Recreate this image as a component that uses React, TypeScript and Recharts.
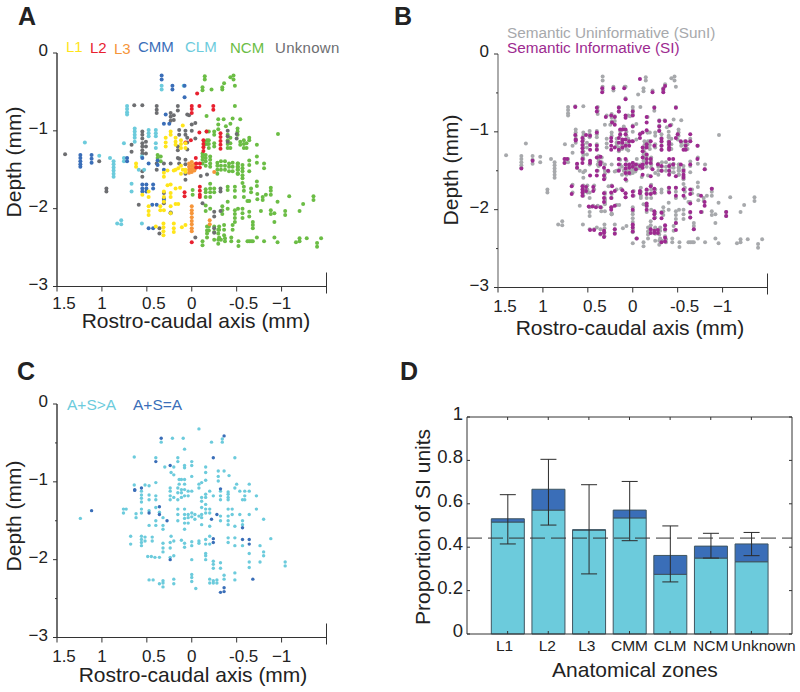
import {
  Bar,
  ComposedChart,
  ErrorBar,
  ReferenceLine,
  Scatter,
  ScatterChart,
  XAxis,
  YAxis,
} from 'recharts';

type Column = [number, number[]];

// recording sites, one row per rostro-caudal position: [x mm, [depths mm]]
const NCM_SITES: Column[] = [
  [-0.12, [-0.44, -0.48, -1.29, -1.33, -1.37, -1.42, -2.42, -2.47]],
  [-0.145, [-0.3, -0.34]],
  [-0.22, [-0.47]],
  [-0.34, [-0.44, -0.47, -1.97, -2.02, -2.07]],
  [-0.36, [-0.39, -2.21, -2.27, -2.34]],
  [-0.43, [-0.31, -0.91, -1.09, -1.16, -1.22]],
  [-0.465, [-0.29, -0.34]],
  [-0.48, [-0.42, -0.68, -1.72, -1.77, -1.85, -2.02, -2.07, -2.12, -2.17]],
  [-0.165, [-0.81, -1.01]],
  [-0.295, [-0.85, -0.92, -0.98, -2.27, -2.32, -2.4, -2.45]],
  [-0.355, [-0.85]],
  [-0.38, [-0.94]],
  [-0.455, [-0.84, -1.41, -1.46, -1.52, -2.21, -2.27]],
  [-0.54, [-0.85, -1.14, -1.18]],
  [-0.51, [-0.97, -1.01, -1.05, -1.42, -1.46, -1.5, -1.55]],
  [-0.96, [-1.04]],
  [-0.17, [-1.12, -1.17, -2.23, -2.28, -2.32, -2.37]],
  [-0.19, [-1.01, -1.12, -1.17, -1.22, -2.23, -2.28]],
  [-0.14, [-1.14, -1.18]],
  [-0.25, [-1.01, -1.05, -1.16, -1.2, -1.74, -1.79, -2.23, -2.3, -2.4]],
  [-0.4, [-1.05, -1.12, -1.17, -1.22, -1.72, -1.76, -1.91, -2.0]],
  [-0.58, [-1.12, -1.17, -1.22, -1.72, -1.77, -1.85]],
  [-0.61, [-1.16, -1.22]],
  [-0.64, [-1.09, -1.12, -1.38, -1.44, -1.52, -1.9, -2.04, -2.1, -2.42]],
  [-0.725, [-1.18, -1.33, -1.41, -1.65, -1.71, -2.37]],
  [-0.155, [-1.31, -1.35, -1.39, -1.45, -1.75, -1.79, -1.85, -1.96, -2.03]],
  [-0.205, [-1.33, -1.37, -1.42, -1.46, -1.68, -1.74, -1.79, -1.85, -2.0]],
  [-0.285, [-1.41, -1.45, -1.5, -1.55]],
  [-0.325, [-1.39, -1.45, -1.5, -2.4]],
  [-0.37, [-1.39, -1.45, -1.5, -2.38, -2.42]],
  [-0.415, [-1.42, -1.46, -1.52]],
  [-0.515, [-1.42, -1.46, -1.5, -1.55, -2.0]],
  [-0.565, [-1.44, -1.48, -1.52, -1.57, -1.61, -1.67, -2.0, -2.06, -2.12]],
  [-0.805, [-1.42, -1.48, -2.42]],
  [0.38, [-1.31, -1.35]],
  [0.345, [-1.33, -1.39]],
  [-0.01, [-1.76, -1.82]],
  [-0.66, [-1.74, -1.79, -2.42]],
  [-0.73, [-1.81, -1.88]],
  [-0.79, [-1.85, -1.89]],
  [-0.825, [-1.82]],
  [-0.88, [-1.73, -1.77, -1.82, -2.02, -2.07]],
  [-1.085, [-1.84]],
  [-1.355, [-1.84, -1.89]],
  [-1.24, [-1.94]],
  [-1.2, [-2.03, -2.38, -2.42]],
  [-1.04, [-2.03, -2.08]],
  [-0.955, [-1.91, -2.43]],
  [-0.92, [-2.06, -2.17, -2.37]],
  [-0.77, [-2.03]],
  [-0.62, [-1.9, -2.42]],
  [-0.68, [-2.17, -2.21, -2.25, -2.42]],
  [-0.305, [-2.23, -2.27, -2.37]],
  [-0.44, [-2.37, -2.42]],
  [-0.52, [-2.42, -2.48]],
  [-1.16, [-2.43]],
  [-1.28, [-2.38]],
  [-1.395, [-2.44, -2.49]],
  [-1.44, [-2.38]],
];
const UNKNOWN_SITES: Column[] = [
  [1.41, [-1.3]],
  [1.03, [-1.39]],
  [0.95, [-1.74, -1.78]],
  [0.64, [-0.67]],
  [0.55, [-0.67, -1.01, -1.05, -1.1, -1.16, -1.2, -1.25, -1.29, -1.52, -1.59]],
  [0.39, [-0.68, -0.73, -0.77, -1.42, -1.5]],
  [0.155, [-0.68, -0.74, -1.2, -1.25, -1.35]],
  [0.235, [-0.77, -0.82, -0.87, -1.42, -2.05]],
  [0.2, [-0.8, -0.86]],
  [0.05, [-0.79, -1.09, -1.15, -1.24]],
  [0.03, [-0.8]],
  [0.0, [-0.92, -1.0]],
  [-0.04, [-0.9, -1.1, -2.37]],
  [0.14, [-0.99, -1.05, -1.36, -1.42]],
  [0.07, [-1.0, -1.05, -1.37, -1.43, -1.55, -1.63]],
  [0.67, [-1.18, -1.27]],
  [0.51, [-1.14, -1.2, -1.29]],
  [-0.4, [-1.0, -1.07, -1.14]],
  [-0.5, [-1.04, -1.1]],
  [0.31, [-1.42, -1.8, -1.87, -1.93]],
  [-0.1, [-1.58]],
  [-0.17, [-1.56]],
  [0.59, [-1.95]],
  [-0.12, [-1.93]],
  [-0.32, [-1.74, -1.78, -2.03]],
  [-0.25, [-2.04, -2.1, -2.25, -2.31]],
  [0.36, [-2.25, -2.32]],
];
const L3_SITES: Column[] = [
  [0.0, [-1.97, -2.02, -2.06, -2.11, -2.16, -2.2, -2.25, -2.29]],
  [-0.2, [-2.15, -2.2]],
  [0.03, [-1.42, -1.46, -1.5, -1.54]],
  [0.0, [-1.4, -1.45, -1.49, -1.53]],
  [-0.03, [-1.43, -1.47, -1.51]],
  [-0.05, [-1.47]],
  [-0.25, [-1.53]],
];
const L2_SITES: Column[] = [
  [-0.06, [-0.52]],
  [0.0, [-0.68, -0.72, -0.77, -2.43]],
  [-0.085, [-0.68, -1.02]],
  [-0.24, [-0.68, -0.73]],
  [-0.13, [-1.12, -1.17, -1.21, -1.26]],
  [-0.165, [-1.01]],
  [-0.32, [-1.03, -1.08, -1.13, -1.18, -1.23]],
  [-0.045, [-1.35]],
  [-0.05, [-1.42, -1.47]],
  [-0.09, [-1.42, -1.47]],
  [0.08, [-1.79, -1.84]],
  [-0.09, [-1.72, -1.77, -1.82, -1.85]],
  [0.01, [-1.12]],
  [0.07, [-1.15]],
];
const L1_SITES: Column[] = [
  [0.1, [-0.93, -1.5]],
  [0.235, [-1.01, -1.05, -1.69, -1.8, -1.85, -1.97, -2.06]],
  [0.29, [-1.09, -1.15, -1.2]],
  [0.18, [-1.09, -1.14, -1.18, -1.5, -1.74, -1.94]],
  [0.12, [-1.12, -1.17, -1.22, -1.45, -1.55]],
  [0.07, [-1.16, -1.22, -1.5, -1.53, -2.21]],
  [0.62, [-1.42, -1.46]],
  [0.31, [-1.54, -1.59, -1.78, -1.85, -1.91, -2.02]],
  [0.48, [-1.78, -1.85, -1.97, -2.03, -2.08]],
  [0.55, [-1.82]],
  [0.27, [-1.7, -1.51]],
  [0.13, [-1.73]],
  [0.35, [-1.97, -2.02]],
  [0.15, [-1.94, -1.48]],
  [0.4, [-2.23]],
  [0.315, [-2.19, -2.24, -2.29, -2.34]],
  [0.2, [-2.19, -2.25, -2.3, -1.51]],
  [0.11, [-2.24]],
];
const CMM_SITES: Column[] = [
  [0.335, [-0.29, -0.34]],
  [0.215, [-0.42, -0.47]],
  [0.08, [-0.42, -0.57]],
  [0.29, [-0.79]],
  [0.31, [-0.91, -1.5, -1.89]],
  [0.25, [-0.91]],
  [1.24, [-1.31, -1.35, -1.39, -1.43, -1.46]],
  [1.115, [-1.31, -1.36, -1.41]],
  [0.72, [-1.35, -1.39]],
  [0.55, [-1.35, -1.69, -1.74, -1.78]],
  [0.505, [-1.69, -1.74, -1.78]],
  [0.43, [-1.69, -1.74, -2.25]],
  [0.38, [-1.38, -1.44]],
  [0.44, [-1.95]],
  [0.39, [-1.95]],
  [0.48, [-2.25, -1.42]],
  [0.235, [-2.06]],
];
const CLM_SITES: Column[] = [
  [0.335, [-0.42, -0.47]],
  [0.09, [-0.42]],
  [0.72, [-0.68, -0.72, -0.76, -0.79]],
  [0.635, [-0.97, -1.01, -1.05, -1.09, -1.14]],
  [0.48, [-0.99, -1.03, -1.07]],
  [0.4, [-0.99, -1.03, -1.07, -1.16, -1.22]],
  [1.19, [-1.15]],
  [1.03, [-1.32]],
  [0.91, [-1.35]],
  [0.87, [-1.39, -1.43, -1.47, -1.51, -1.55, -1.59]],
  [0.755, [-1.16, -1.35, -1.39]],
  [0.67, [-1.68, -1.78]],
  [0.555, [-2.19, -1.33]],
  [0.83, [-2.19]],
  [0.785, [-2.15, -2.2]],
  [0.59, [-1.5]],
  [0.53, [-1.5]],
];

// semantic informative units split by the auditory-only comparison
const ADDS_TO_A_SITES: Column[] = [
  [1.24, [-1.47]],
  [0.76, [-1.35, -1.4]],
  [0.73, [-1.35]],
  [0.68, [-1.7, -1.8]],
  [0.64, [-0.68, -1.04]],
  [0.62, [-1.41, -1.46]],
  [0.56, [-1.12, -1.17, -1.21, -1.26, -1.35, -1.4, -1.7, -1.74, -1.78, -1.82]],
  [0.52, [-1.04, -1.71, -1.76]],
  [0.475, [-1.05, -1.17, -1.23, -1.37, -1.56, -2.26]],
  [0.49, [-1.96]],
  [0.45, [-1.96]],
  [0.41, [-1.97]],
  [0.44, [-1.71, -1.76]],
  [0.4, [-1.01, -1.18, -1.23, -1.33, -1.5, -1.56, -0.69]],
  [0.36, [-1.39, -1.97, -2.31]],
  [0.43, [-2.26]],
  [0.32, [-1.79, -1.85, -1.9, -2.27, -2.3, -2.35, -1.46, -1.56, -1.61]],
  [0.34, [-0.49]],
  [0.3, [-0.81]],
  [0.24, [-1.08, -1.12, -1.18, -1.23, -1.78, -1.85, -1.97]],
  [0.23, [-0.88, -1.7]],
  [0.2, [-0.81, -0.91, -1.2, -1.76, -2.25, -2.31, -1.95]],
  [0.215, [-0.44]],
  [0.155, [-0.69, -0.74, -1.08, -1.14, -1.23, -1.35, -1.42, -1.5]],
  [0.14, [-0.97, -1.03]],
  [0.115, [-0.97, -1.1, -1.14, -1.2, -1.75]],
  [0.095, [-0.44]],
  [0.08, [-0.58, -0.79, -0.82, -0.97, -1.03, -1.1, -1.18, -1.35, -1.42, -1.47, -1.53, -1.61, -1.79, -1.84]],
  [0.04, [-1.12, -1.18, -1.42, -1.46, -1.53]],
  [0.0, [-0.74, -0.79, -0.93, -1.12, -1.4, -1.45, -1.77, -1.82, -2.0, -2.19, -2.23, -2.28]],
  [-0.035, [-1.42, -1.48]],
  [-0.045, [-2.37]],
  [-0.08, [-0.32, -1.03, -1.08, -1.44, -1.76, -1.79]],
  [-0.11, [-1.01, -1.2, -1.25, -1.33, -1.42, -1.46, -1.55]],
  [-0.155, [-0.81, -0.88, -0.98, -1.16, -1.2, -1.29, -1.35, -1.4, -1.74, -1.8, -1.92, -1.95, -2.0]],
  [-0.2, [-1.12, -1.35, -1.4, -1.57, -1.7, -1.8, -2.25, -2.3]],
  [-0.24, [-1.18, -2.02, -2.06, -2.11, -2.27, -2.3]],
  [-0.22, [-0.49]],
  [-0.28, [-2.26, -2.3]],
  [-0.295, [-0.86, -0.93, -0.99]],
  [-0.32, [-1.12, -1.18, -1.23, -1.44, -1.5, -2.04, -2.11]],
  [-0.34, [-0.45, -0.49]],
  [-0.36, [-0.86, -2.2, -2.25]],
  [-0.405, [-1.13, -1.16, -1.2, -1.23, -1.35, -1.44, -1.5, -1.55, -1.72, -1.78]],
  [-0.415, [-0.92]],
  [-0.45, [-1.35, -1.42]],
  [-0.48, [-0.69, -1.08, -1.57, -1.72, -1.82, -2.17, -2.26]],
  [-0.5, [-1.03]],
  [-0.535, [-1.12, -1.42]],
  [-0.565, [-1.23, -1.5, -1.55, -1.82]],
  [-0.59, [-1.12, -1.18, -1.23]],
  [-0.64, [-1.03, -1.12, -1.42, -1.92, -2.03, -2.1]],
  [-0.72, [-1.18, -1.35]],
  [-0.76, [-1.82, -2.03]],
  [-0.8, [-1.48, -1.9, -1.95]],
  [-0.88, [-1.73]],
  [-1.04, [-2.03, -2.08]],
];
const SAME_AS_A_SITES: Column[] = [
  [1.115, [-1.37]],
  [0.635, [-1.1, -1.11]],
  [0.56, [-1.08]],
  [0.475, [-1.4]],
  [0.36, [-1.32, -1.42]],
  [0.275, [-1.5]],
  [0.34, [-0.44]],
  [0.4, [-0.74]],
  [0.24, [-0.79, -2.0]],
  [-0.24, [-0.69, -1.73, -1.78]],
  [-0.36, [-0.41, -2.36, -2.41]],
  [-0.32, [-1.09, -2.42]],
  [-0.28, [-1.42]],
  [-0.22, [-1.48]],
  [-0.565, [-1.59, -1.74]],
  [-0.64, [-1.74, -1.8]],
  [-0.68, [-2.25]],
];

const ZONES = ['L1', 'L2', 'L3', 'CMM', 'CLM', 'NCM', 'Unknown'];
const SI_ADDS_TO_A = [0.516, 0.571, 0.479, 0.535, 0.275, 0.35, 0.333];
// L3 has no dark part, but a zero-height bar loses its error bar
const SI_SAME_AS_A = [0.015, 0.096, 0.001, 0.036, 0.087, 0.055, 0.082];
const ERR_BELOW = [0.116, 0.165, 0.203, 0.141, 0.122, 0.055, 0.054];
const ERR_ABOVE = [0.111, 0.138, 0.208, 0.132, 0.136, 0.059, 0.053];
const CHANCE_LEVEL = 0.442;

const X_TICKS = [1.5, 1, 0.5, 0, -0.5, -1, -1.5];
const DEPTH_MAJOR = [0, -1, -2, -3];
const DEPTH_ALL = [0, -0.5, -1, -1.5, -2, -2.5, -3];
const SHARE_TICKS = [0, 0.2, 0.4, 0.6, 0.8, 1];

const FONT = '"Liberation Sans", Arial, sans-serif';
const INK = '#333';
const LIGHT_BLUE = '#6ccbdc';
const DARK_BLUE = '#3a6eb8';

const toPoints = (cols: Column[]) => cols.flatMap(([x, ys]) => ys.map((y) => ({ x, y })));

const zoneBars = ZONES.map((zone, i) => ({
  pos: i + 1,
  zone,
  addsToA: SI_ADDS_TO_A[i],
  sameAsA: SI_SAME_AS_A[i],
  err: [ERR_BELOW[i], ERR_ABOVE[i]],
}));

const allSites = [
  ...NCM_SITES,
  ...UNKNOWN_SITES,
  ...L3_SITES,
  ...L2_SITES,
  ...L1_SITES,
  ...CMM_SITES,
  ...CLM_SITES,
];

const SiteDot = ({ cx, cy, fill, radius }: any) => <circle cx={cx} cy={cy} r={radius} fill={fill} />;

function RostroTick({ x, y, payload, labelGap }: any) {
  const v = payload.value;
  if (v === -1.5) return <line x1={x} x2={x} y1={y - 14} y2={y + 7} stroke={INK} />;
  const label = v === -1 ? '−1' : String(v);
  const shift = Number.isInteger(v) ? 0 : 7;
  return (
    <g>
      <line x1={x} x2={x} y1={y} y2={y + 5} stroke={INK} />
      <text x={x + shift} y={y + labelGap} fontSize={17} fontFamily={FONT} fill='#222' textAnchor='middle'>
        {label}
      </text>
    </g>
  );
}

function DepthTick({ x, y, payload }: any) {
  const v = payload.value;
  if (!Number.isInteger(v)) return <line x1={x - 2} x2={x} y1={y} y2={y} stroke={INK} />;
  return (
    <g>
      <line x1={x - 4} x2={x} y1={y} y2={y} stroke={INK} />
      <text x={x - 9} y={y + 3} fontSize={17} fontFamily={FONT} fill='#222' textAnchor='end'>
        {v === 0 ? '0' : `−${-v}`}
      </text>
    </g>
  );
}

const ZONE_LABEL_SHIFT: Record<string, number> = { L1: -3, L2: -1, L3: -2, Unknown: 12 };

function ZoneTick({ x, y, payload }: any) {
  const zone = ZONES[payload.value - 1];
  return (
    <g>
      <line x1={x} x2={x} y1={y} y2={y - 3} stroke={INK} />
      <line x1={x} x2={x} y1={y - 217} y2={y - 214} stroke={INK} />
      <text x={x + (ZONE_LABEL_SHIFT[zone] ?? 0)} y={y + 17} fontSize={15.5} fontFamily={FONT} fill='#222' textAnchor='middle'>
        {zone}
      </text>
    </g>
  );
}

function ShareTick({ x, y, payload }: any) {
  return (
    <g>
      <line x1={x} x2={x + 3} y1={y} y2={y} stroke={INK} />
      <line x1={x + 322} x2={x + 325} y1={y} y2={y} stroke={INK} />
      <text x={x - 4} y={y + 3} fontSize={18.5} fontFamily={FONT} fill='#222' textAnchor='end'>
        {payload.value}
      </text>
    </g>
  );
}

const titleStyle = { fontFamily: FONT, fontSize: 21, fill: '#222' };
const letterStyle = { fontFamily: FONT, fontSize: 25, fontWeight: 700, fill: '#222' };

interface DepthMapProps {
  left: number;
  top: number;
  height: number;
  plotLeft: number;
  plotTop: number;
  letter: string;
  letterX: number;
  letterY: number;
  ticks: number[];
  tickGap: number;
  dotRadius: number;
  spineColor: string;
  titleX: number;
  titleY: number;
  depthX: number;
  depthY: number;
  series: { name: string; sites: { x: number; y: number }[]; color: string }[];
  legend: { text: string; x: number; y: number; color: string; size?: number; spacing?: number }[];
}

function DepthMap(p: DepthMapProps) {
  const plotW = 269.5;
  const plotH = 233.5;
  return (
    <div style={{ position: 'absolute', left: p.left, top: p.top }}>
      <ScatterChart
        width={400}
        height={p.height}
        margin={{
          left: p.plotLeft - 1,
          top: p.plotTop,
          right: 400 - p.plotLeft - plotW,
          bottom: p.height - p.plotTop - plotH - 1,
        }}>
        <XAxis
          type='number'
          dataKey='x'
          reversed
          domain={[-1.5, 1.5]}
          ticks={X_TICKS}
          interval={0}
          height={1}
          tickSize={0}
          tickMargin={0}
          tickLine={false}
          tick={<RostroTick labelGap={p.tickGap} />}
          axisLine={{ stroke: INK }}
        />
        <YAxis
          type='number'
          dataKey='y'
          domain={[-3, 0]}
          ticks={p.ticks}
          interval={0}
          width={1}
          tickSize={0}
          tickMargin={0}
          tickLine={false}
          tick={<DepthTick />}
          axisLine={{ stroke: p.spineColor, strokeWidth: 1.4 }}
        />
        {p.series.map((s) => (
          <Scatter
            key={s.name}
            name={s.name}
            data={s.sites}
            fill={s.color}
            shape={<SiteDot radius={p.dotRadius} />}
            isAnimationActive={false}
          />
        ))}
        <text x={p.letterX} y={p.letterY} style={letterStyle}>
          {p.letter}
        </text>
        <text x={p.titleX} y={p.titleY} textAnchor='middle' style={titleStyle}>
          Rostro-caudal axis (mm)
        </text>
        <text
          x={p.depthX}
          y={p.depthY}
          textAnchor='middle'
          transform={`rotate(-90 ${p.depthX} ${p.depthY})`}
          style={titleStyle}>
          Depth (mm)
        </text>
        {p.legend.map((l) => (
          <text
            key={l.text}
            x={l.x}
            y={l.y}
            fill={l.color}
            fontFamily={FONT}
            fontSize={l.size ?? 15}
            letterSpacing={l.spacing ?? 0}>
            {l.text}
          </text>
        ))}
      </ScatterChart>
    </div>
  );
}

function ZoneBars() {
  return (
    <div style={{ position: 'absolute', left: 400, top: 345 }}>
      <ComposedChart
        width={400}
        height={347}
        data={zoneBars}
        margin={{ left: 66, top: 72, right: 8, bottom: 57 }}>
        <XAxis
          type='number'
          dataKey='pos'
          domain={[0, 8]}
          ticks={[1, 2, 3, 4, 5, 6, 7]}
          interval={0}
          height={1}
          tickSize={0}
          tickMargin={0}
          tickLine={false}
          tick={<ZoneTick />}
          axisLine={{ stroke: INK }}
        />
        <YAxis
          type='number'
          domain={[0, 1]}
          ticks={SHARE_TICKS}
          interval={0}
          width={1}
          tickSize={0}
          tickMargin={0}
          tickLine={false}
          tick={<ShareTick />}
          axisLine={{ stroke: INK }}
        />
        <Bar dataKey='addsToA' stackId='si' fill={LIGHT_BLUE} stroke='#3f5560' barSize={33} isAnimationActive={false} />
        <Bar dataKey='sameAsA' stackId='si' fill={DARK_BLUE} stroke='#3f5560' barSize={33} isAnimationActive={false}>
          <ErrorBar dataKey='err' width={8} stroke='#2b2b2b' strokeWidth={1} isAnimationActive={false} />
        </Bar>
        <ReferenceLine y={CHANCE_LEVEL} stroke='#333' strokeDasharray='15 6' />
        <ReferenceLine y={1} stroke={INK} />
        <ReferenceLine x={8} stroke={INK} />
        <text x={0} y={35} style={letterStyle}>
          D
        </text>
        <text x={235} y={332} textAnchor='middle' style={titleStyle}>
          Anatomical zones
        </text>
        <text x={30} y={182} textAnchor='middle' transform='rotate(-90 30 182)' style={titleStyle}>
          Proportion of SI units
        </text>
      </ComposedChart>
    </div>
  );
}

export default function App() {
  const informative = [...ADDS_TO_A_SITES, ...SAME_AS_A_SITES];
  return (
    <div style={{ position: 'absolute', left: 0, top: 0, width: 800, height: 692, overflow: 'hidden', background: '#fff' }}>
      <DepthMap
        left={0}
        top={0}
        height={345}
        plotLeft={57}
        plotTop={53}
        letter='A'
        letterX={18}
        letterY={25}
        ticks={DEPTH_MAJOR}
        tickGap={22}
        dotRadius={2}
        spineColor={INK}
        titleX={196}
        titleY={328}
        depthX={21}
        depthY={162}
        series={[
          { name: 'NCM', sites: toPoints(NCM_SITES), color: '#6bbd45' },
          { name: 'Unknown', sites: toPoints(UNKNOWN_SITES), color: '#6d6e71' },
          { name: 'CLM', sites: toPoints(CLM_SITES), color: LIGHT_BLUE },
          { name: 'CMM', sites: toPoints(CMM_SITES), color: DARK_BLUE },
          { name: 'L3', sites: toPoints(L3_SITES), color: '#f6953a' },
          { name: 'L2', sites: toPoints(L2_SITES), color: '#e8202f' },
          { name: 'L1', sites: toPoints(L1_SITES), color: '#ffe51a' },
        ]}
        legend={[
          { text: 'L1', x: 66, y: 52, color: '#ffe51a' },
          { text: 'L2', x: 90, y: 53, color: '#e8202f' },
          { text: 'L3', x: 114, y: 54, color: '#f6953a' },
          { text: 'CMM', x: 138, y: 52, color: DARK_BLUE },
          { text: 'CLM', x: 185, y: 52, color: LIGHT_BLUE },
          { text: 'NCM', x: 230, y: 53, color: '#6bbd45' },
          { text: 'Unknown', x: 275, y: 53, color: '#6d6e71', spacing: 0.3 },
        ]}
      />
      <DepthMap
        left={390}
        top={0}
        height={345}
        plotLeft={108}
        plotTop={54}
        letter='B'
        letterX={4}
        letterY={25}
        ticks={DEPTH_ALL}
        tickGap={24}
        dotRadius={2}
        spineColor='#888'
        titleX={240}
        titleY={335}
        depthX={68}
        depthY={170}
        series={[
          { name: 'Semantic Uninformative (SunI)', sites: toPoints(allSites), color: '#a7a9ac' },
          { name: 'Semantic Informative (SI)', sites: toPoints(informative), color: '#9d2a90' },
        ]}
        legend={[
          { text: 'Semantic Uninformative (SunI)', x: 117, y: 38, color: '#a7a9ac', size: 15.3 },
          { text: 'Semantic Informative (SI)', x: 117, y: 53, color: '#9d2a90', size: 15.3 },
        ]}
      />
      <DepthMap
        left={0}
        top={345}
        height={347}
        plotLeft={57}
        plotTop={59}
        letter='C'
        letterX={17}
        letterY={35}
        ticks={DEPTH_ALL}
        tickGap={24}
        dotRadius={1.7}
        spineColor={INK}
        titleX={193}
        titleY={337}
        depthX={21}
        depthY={171}
        series={[
          { name: 'A+S>A', sites: toPoints(ADDS_TO_A_SITES), color: LIGHT_BLUE },
          { name: 'A+S=A', sites: toPoints(SAME_AS_A_SITES), color: DARK_BLUE },
        ]}
        legend={[
          { text: 'A+S>A', x: 67, y: 65, color: LIGHT_BLUE, size: 15.5 },
          { text: 'A+S=A', x: 133, y: 65, color: DARK_BLUE, size: 15.5 },
        ]}
      />
      <ZoneBars />
    </div>
  );
}
